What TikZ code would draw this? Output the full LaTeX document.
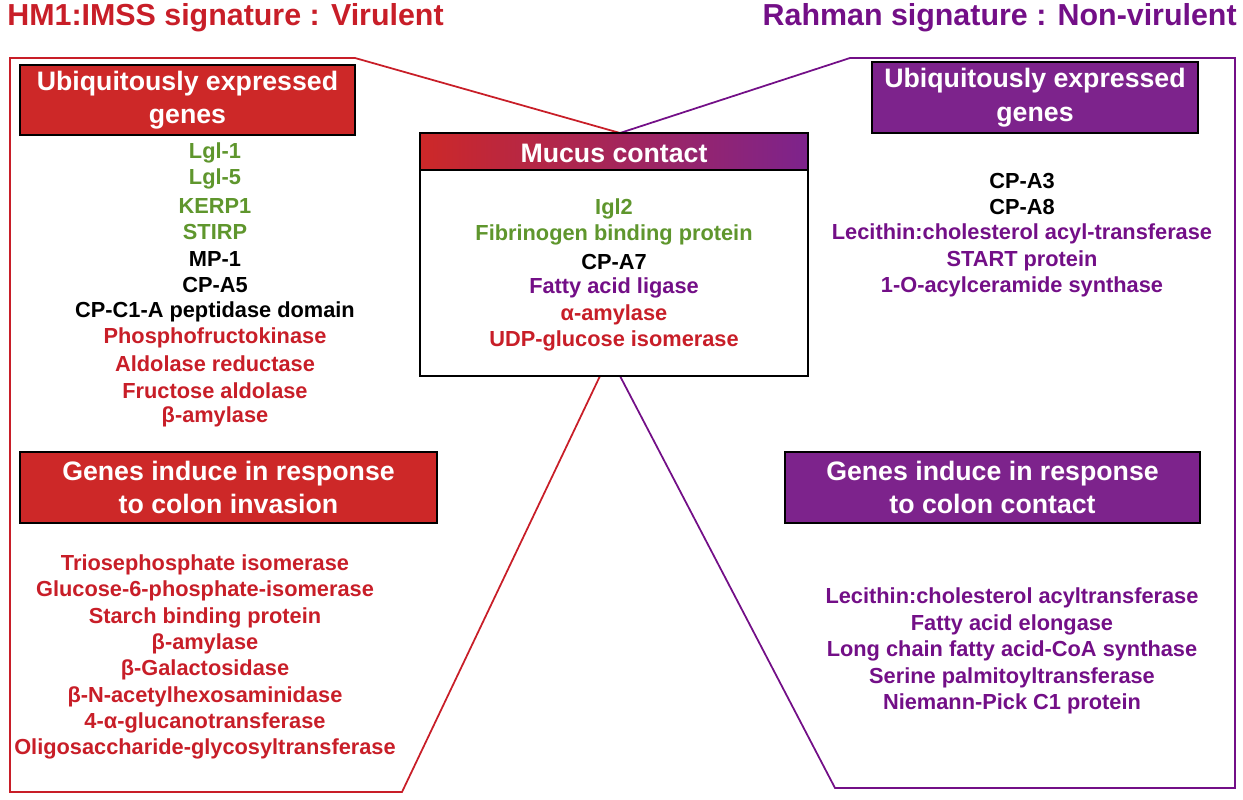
\documentclass[tikz,border=0pt]{standalone}
\usepackage{fontspec}
\setmainfont{Liberation Sans}
\usetikzlibrary{shadings}
\definecolor{cred}{RGB}{200,30,40}
\definecolor{cgreen}{RGB}{95,150,45}
\definecolor{cpur}{RGB}{115,15,135}
\definecolor{fred}{RGB}{205,40,40}
\definecolor{fpur}{RGB}{125,35,140}
\begin{document}
\begin{tikzpicture}[x=0.02cm,y=-0.02cm,
 t/.style={font=\fontsize{12.4}{14}\selectfont\bfseries,inner sep=0pt},
 hdr/.style={draw=black,line width=0.6pt,text=white,font=\fontsize{15.2}{17}\selectfont\bfseries,align=center,inner sep=0pt},
 ttl/.style={font=\fontsize{17.3}{20}\selectfont\bfseries,inner sep=0pt}]
\useasboundingbox (0,0) rectangle (1243,800);
\node[ttl,text=cred,anchor=west] (tl) at (7,18) {HM1:IMSS signature : Virulent};
\node[ttl,text=cpur,anchor=east] (tr) at (1237,18) {Rahman signature : Non-virulent};
% outlines
\draw[cred,line width=1pt] (600,376) -- (402,792) -- (10,792) -- (10,58) -- (355,58) -- (620,133);
\draw[cpur,line width=1pt] (620,133) -- (850,58) -- (1235,58) -- (1235,788) -- (835,788) -- (620,376);
% mucus box
\draw[line width=0.6pt,fill=white] (420,133) rectangle (808,376);
\shade[left color=fred,right color=fpur] (420,133) rectangle (808,170);
\draw[line width=0.6pt] (420,133) rectangle (808,376) (420,170) -- (808,170);
\node[t,text=white,font=\fontsize{15.2}{17}\selectfont\bfseries] (mc) at (614,153) {Mucus contact};
% headers
\node[hdr,fill=fred,minimum width=335*0.02cm,minimum height=70*0.02cm] (h1) at (187.5,100) {Ubiquitously expressed\\[2pt]genes};
\node[hdr,fill=fred,minimum width=417*0.02cm,minimum height=71*0.02cm] (h2) at (228.5,487.5) {Genes induce in response\\[2pt]to colon invasion};
\node[hdr,fill=fpur,minimum width=326*0.02cm,minimum height=71*0.02cm] (h3) at (1035,97.5) {Ubiquitously expressed\\[2pt]genes};
\node[hdr,fill=fpur,minimum width=415*0.02cm,minimum height=71*0.02cm] (h4) at (992.5,487.5) {Genes induce in response\\[2pt]to colon contact};
% left top
\foreach \s/\c [count=\i from 0] in {Lgl-1/cgreen,Lgl-5/cgreen,KERP1/cgreen,STIRP/cgreen,MP-1/black,CP-A5/black,CP-C1-A peptidase domain/black,Phosphofructokinase/cred,Aldolase reductase/cred,Fructose aldolase/cred,β-amylase/cred}
  \node[t,text=\c] (l\i) at (215,{153+26.4*\i}) {\s};
% left bottom
\foreach \s [count=\i from 0] in {Triosephosphate isomerase,Glucose-6-phosphate-isomerase,Starch binding protein,β-amylase,β-Galactosidase,β-N-acetylhexosaminidase,4-α-glucanotransferase,Oligosaccharide-glycosyltransferase}
  \node[t,text=cred] (b\i) at (205,{565+26.3*\i}) {\s};
% mucus list
\foreach \s/\c [count=\i from 0] in {Igl2/cgreen,Fibrinogen binding protein/cgreen,CP-A7/black,Fatty acid ligase/cpur,α-amylase/cred,UDP-glucose isomerase/cred}
  \node[t,text=\c] (m\i) at (614,{209+26.4*\i}) {\s};
% right top
\foreach \s/\c [count=\i from 0] in {CP-A3/black,CP-A8/black,Lecithin:cholesterol acyl-transferase/cpur,START protein/cpur,1-O-acylceramide synthase/cpur}
  \node[t,text=\c] (r\i) at (1022,{181+26.5*\i}) {\s};
% right bottom
\foreach \s [count=\i from 0] in {Lecithin:cholesterol acyltransferase,Fatty acid elongase,Long chain fatty acid-CoA synthase,Serine palmitoyltransferase,Niemann-Pick C1 protein}
  \node[t,text=cpur] (s\i) at (1012,{598+26.5*\i}) {\s};
\end{tikzpicture}
\end{document}
